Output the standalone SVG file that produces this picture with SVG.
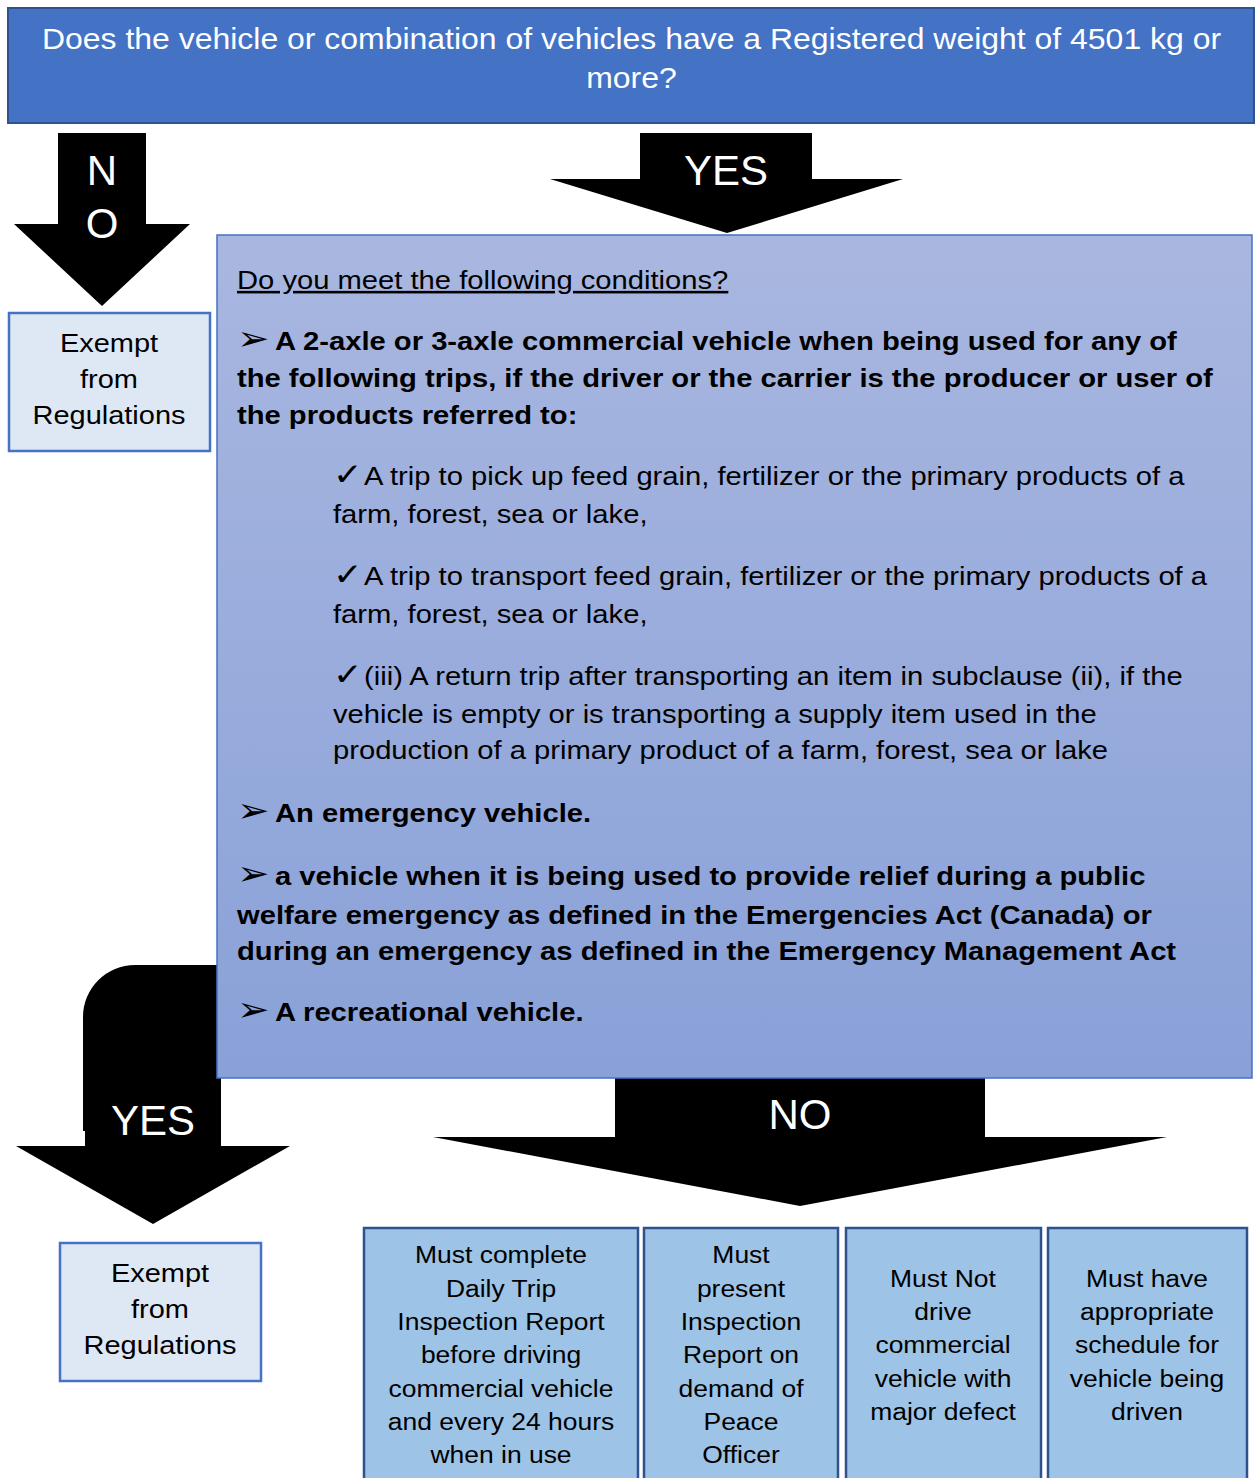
<svg xmlns="http://www.w3.org/2000/svg" width="1255" height="1478" viewBox="0 0 1255 1478">
<defs>
<linearGradient id="condGrad" x1="0" y1="0" x2="0" y2="1">
<stop offset="0" stop-color="#A9B7E0"/>
<stop offset="1" stop-color="#89A1D8"/>
</linearGradient>
<style>
text{font-family:"Liberation Sans","DejaVu Sans",Arial,sans-serif;}
.arrow{fill:#000;}
.alabel{fill:#fff;font-size:42px;text-anchor:middle;}
.title{fill:#4472C4;stroke:#2F528F;stroke-width:2;}
.titletext{fill:#fff;font-size:30px;text-anchor:middle;}
.exempt{fill:#DEE8F5;stroke:#4472C4;stroke-width:2.5;}
.exempttext{fill:#000;font-size:26px;text-anchor:middle;}
.cond{fill:url(#condGrad);stroke:#4472C4;stroke-width:1.5;}
.ctext{fill:#000;font-size:25.6px;}
.b{font-weight:bold;}
.bul{fill:#000;font-size:34px;font-weight:bold;font-family:"DejaVu Sans",sans-serif;}
.chk{fill:#000;font-size:31px;font-weight:bold;font-family:"DejaVu Sans",sans-serif;}
.req{fill:#9DC3E6;stroke:#2F528F;stroke-width:2.5;}
.reqtext{fill:#000;font-size:24.5px;text-anchor:middle;}
</style>
</defs>
<rect width="1255" height="1478" fill="#fff"/>

<g id="connectors">
<g id="arrow-no-top">
<polygon class="arrow" points="58,133 146,133 146,224 190,224 102,306 14,224 58,224"/>
<text class="alabel" x="102" y="185" font-size="40">N</text>
<text class="alabel" x="102" y="238" font-size="40">O</text>
</g>
<g id="arrow-yes-top">
<polygon class="arrow" points="640,133 812,133 812,179 903,179 727,233 550,179 640,179"/>
<text class="alabel" x="726" y="185">YES</text>
</g>
<g id="arrow-yes-bottom">
<path class="arrow" d="M 240 965 H 135 A 52 52 0 0 0 83 1017 V 1131 H 85 V 1146 H 16 L 153 1224 L 290 1146 H 221 V 1060 H 240 Z"/>
<text class="alabel" x="153" y="1135" font-size="41">YES</text>
</g>
<g id="arrow-no-bottom">
<polygon class="arrow" points="615,1076 985,1076 985,1137 1167,1137 800,1206 433,1137 615,1137"/>
<text class="alabel" x="800" y="1129" font-size="41">NO</text>
</g>
</g>

<g id="q1">
<rect class="title" x="8" y="8" width="1246" height="115"/>
<text class="titletext" transform="matrix(1.065 0 0 1 631.5 0)"><tspan x="0" y="49">Does the vehicle or combination of vehicles have a Registered weight of 4501 kg or</tspan><tspan x="0" y="88">more?</tspan></text>
</g>

<g id="exempt1">
<rect class="exempt" x="9" y="313" width="201" height="138"/>
<text class="exempttext" transform="matrix(1.115 0 0 1 109 0)"><tspan x="0" y="352">Exempt</tspan><tspan x="0" y="388">from</tspan><tspan x="0" y="424">Regulations</tspan></text>
</g>

<g id="conditions">
<rect class="cond" x="217" y="235" width="1035" height="843"/>
<g transform="matrix(1.14 0 0 1 237 0)">
<text class="ctext" x="0" y="289" text-decoration="underline">Do you meet the following conditions?</text>
<text class="bul" x="0" y="350">➢</text>
<text class="ctext b"><tspan x="33.3" y="350">A 2-axle or 3-axle commercial vehicle when being used for any of</tspan><tspan x="0" y="387">the following trips, if the driver or the carrier is the producer or user of</tspan><tspan x="0" y="424">the products referred to:</tspan></text>
<text class="chk" x="84.2" y="485">✓</text>
<text class="ctext"><tspan x="111.4" y="485">A trip to pick up feed grain, fertilizer or the primary products of a</tspan><tspan x="84.2" y="523">farm, forest, sea or lake,</tspan></text>
<text class="chk" x="84.2" y="585">✓</text>
<text class="ctext"><tspan x="111.4" y="585">A trip to transport feed grain, fertilizer or the primary products of a</tspan><tspan x="84.2" y="623">farm, forest, sea or lake,</tspan></text>
<text class="chk" x="84.2" y="685">✓</text>
<text class="ctext"><tspan x="111.4" y="685">(iii) A return trip after transporting an item in subclause (ii), if the</tspan><tspan x="84.2" y="723">vehicle is empty or is transporting a supply item used in the</tspan><tspan x="84.2" y="759">production of a primary product of a farm, forest, sea or lake</tspan></text>
<text class="bul" x="0" y="822">➢</text>
<text class="ctext b" x="33.3" y="822">An emergency vehicle.</text>
<text class="bul" x="0" y="885">➢</text>
<text class="ctext b"><tspan x="33.3" y="885">a vehicle when it is being used to provide relief during a public</tspan><tspan x="0" y="924">welfare emergency as defined in the Emergencies Act (Canada) or</tspan><tspan x="0" y="960">during an emergency as defined in the Emergency Management Act</tspan></text>
<text class="bul" x="0" y="1021">➢</text>
<text class="ctext b" x="33.3" y="1021">A recreational vehicle.</text>
</g>
</g>

<g id="exempt2">
<rect class="exempt" x="60" y="1243" width="201" height="138"/>
<text class="exempttext" transform="matrix(1.115 0 0 1 160 0)"><tspan x="0" y="1282">Exempt</tspan><tspan x="0" y="1318">from</tspan><tspan x="0" y="1354">Regulations</tspan></text>
</g>

<g id="req1">
<rect class="req" x="364" y="1228" width="274" height="262"/>
<text class="reqtext" transform="matrix(1.08 0 0 1 501 0)"><tspan x="0" y="1263">Must complete</tspan><tspan x="0" y="1297">Daily Trip</tspan><tspan x="0" y="1330">Inspection Report</tspan><tspan x="0" y="1363">before driving</tspan><tspan x="0" y="1397">commercial vehicle</tspan><tspan x="0" y="1430">and every 24 hours</tspan><tspan x="0" y="1463">when in use</tspan></text>
</g>

<g id="req2">
<rect class="req" x="644" y="1228" width="194" height="262"/>
<text class="reqtext" transform="matrix(1.08 0 0 1 741 0)"><tspan x="0" y="1263">Must</tspan><tspan x="0" y="1297">present</tspan><tspan x="0" y="1330">Inspection</tspan><tspan x="0" y="1363">Report on</tspan><tspan x="0" y="1397">demand of</tspan><tspan x="0" y="1430">Peace</tspan><tspan x="0" y="1463">Officer</tspan></text>
</g>

<g id="req3">
<rect class="req" x="846" y="1228" width="195" height="262"/>
<text class="reqtext" transform="matrix(1.08 0 0 1 943 0)"><tspan x="0" y="1287">Must Not</tspan><tspan x="0" y="1320">drive</tspan><tspan x="0" y="1353">commercial</tspan><tspan x="0" y="1387">vehicle with</tspan><tspan x="0" y="1420">major defect</tspan></text>
</g>

<g id="req4">
<rect class="req" x="1048" y="1228" width="199" height="262"/>
<text class="reqtext" transform="matrix(1.08 0 0 1 1147 0)"><tspan x="0" y="1287">Must have</tspan><tspan x="0" y="1320">appropriate</tspan><tspan x="0" y="1353">schedule for</tspan><tspan x="0" y="1387">vehicle being</tspan><tspan x="0" y="1420">driven</tspan></text>
</g>
</svg>
